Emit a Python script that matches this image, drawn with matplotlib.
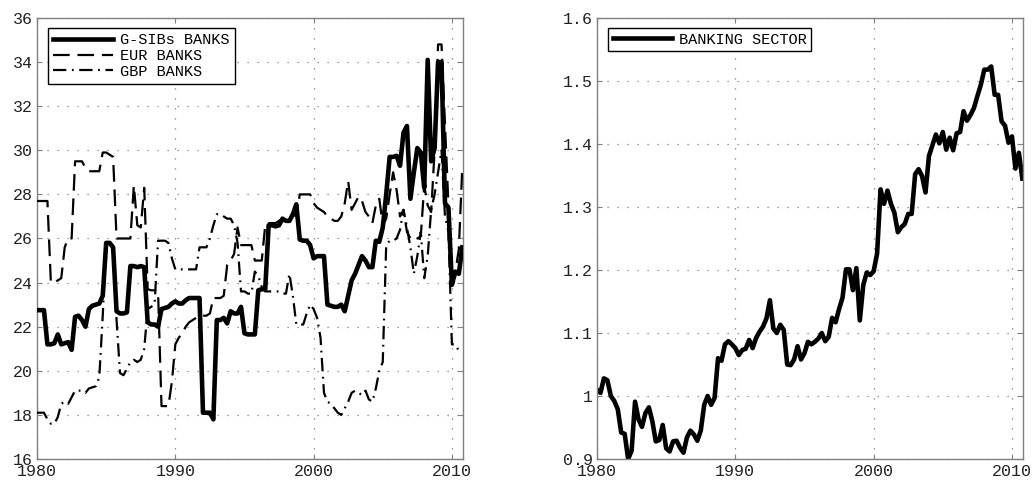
import matplotlib
matplotlib.use("Agg")
import matplotlib.pyplot as plt
import numpy as np
from matplotlib.ticker import FuncFormatter

# quarterly observations, 1980Q1 .. 2010Q4
gsib = [
    22.75, 22.75, 22.75, 21.2, 21.2, 21.25, 21.65, 21.2, 21.25, 21.3, 20.95, 22.45,
    22.5, 22.3, 22.0, 22.8, 22.95, 23.0, 23.05, 23.4, 25.8, 25.8, 25.6, 22.7,
    22.6, 22.6, 22.65, 24.75, 24.75, 24.7, 24.75, 24.7, 22.2, 22.1, 22.1, 22.0,
    22.8, 22.85, 22.9, 23.05, 23.15, 23.05, 23.05, 23.2, 23.3, 23.3, 23.3, 23.3,
    18.1, 18.1, 18.1, 17.8, 22.3, 22.3, 22.4, 22.15, 22.7, 22.6, 22.6, 22.9,
    21.7, 21.65, 21.65, 21.65, 23.65, 23.7, 23.7, 26.6, 26.6, 26.55, 26.6, 26.9,
    26.8, 26.8, 27.1, 27.55, 25.95, 25.9, 25.9, 25.7, 25.1, 25.2, 25.2, 25.2,
    23.0, 22.95, 22.9, 22.9, 23.0, 22.7, 23.4, 24.1, 24.4, 24.8, 25.2, 25.0,
    24.7, 24.7, 25.9, 25.85, 26.5, 28.0, 29.7, 29.7, 29.75, 29.3, 30.8, 31.1,
    27.8, 29.0, 30.1, 29.9, 28.3, 34.1, 29.5, 30.1, 34.0, 34.0, 27.6, 27.4,
    23.9, 24.5, 24.4, 25.6,
]
eur = [
    27.7, 27.7, 27.7, 27.7, 24.0, 24.0, 24.1, 24.2, 25.6, 26.0, 26.0, 29.5,
    29.5, 29.5, 29.2, 29.05, 29.05, 29.05, 29.05, 29.9, 29.9, 29.8, 29.7, 26.0,
    26.0, 26.0, 26.0, 26.0, 28.4, 26.6, 26.5, 28.3, 23.7, 23.65, 23.65, 23.6,
    18.4, 18.4, 18.4, 19.5, 21.2, 21.5, 21.7, 22.0, 22.2, 22.3, 22.4, 22.5,
    22.5, 22.5, 22.6, 23.3, 23.3, 23.3, 23.4, 24.8, 25.0, 25.3, 26.5, 25.7,
    25.7, 25.7, 25.7, 25.0, 25.0, 25.0, 26.6, 26.7, 26.7, 26.7, 26.8, 26.9,
    26.9, 27.0, 27.1, 27.0, 28.0, 28.0, 28.0, 28.0, 27.6, 27.4, 27.3, 27.2,
    27.0, 26.9, 26.8, 26.8, 27.0, 27.6, 28.6, 27.3, 27.6, 27.9, 27.7, 27.2,
    27.0, 26.7, 27.5, 27.8, 26.6, 26.9, 28.0, 29.0, 28.2, 27.0, 27.3, 26.3,
    26.0, 25.9, 26.0, 26.1, 28.4, 27.5, 27.2, 30.0, 34.8, 34.8, 31.2, 27.5,
    24.0, 24.5, 25.5, 29.2,
]
gbp = [
    18.1, 18.1, 18.1, 17.8, 17.6, 17.6, 17.9, 18.5, 18.6, 18.5, 18.8, 19.1,
    19.1, 19.1, 19.0, 19.2, 19.25, 19.3, 19.7, 22.5, 25.8, 25.8, 25.6, 22.3,
    19.9, 19.8, 20.1, 20.4, 20.5, 20.4, 20.5, 21.0, 22.8, 22.9, 23.0, 25.9,
    25.9, 25.9, 25.8, 25.1, 24.6, 24.6, 24.6, 24.6, 24.6, 24.6, 24.6, 25.6,
    25.6, 25.6, 26.0, 26.6, 27.1, 27.1, 27.0, 26.9, 26.9, 26.6, 25.8, 23.6,
    23.6, 23.5, 23.5, 24.5, 24.3, 23.8, 23.6, 23.6, 23.6, 23.6, 23.6, 23.5,
    23.5, 24.4, 23.4, 22.1, 22.1, 22.1, 22.6, 23.0, 22.8, 22.4, 21.5, 19.0,
    18.6, 18.5, 18.3, 18.1, 18.0, 18.3, 18.6, 19.0, 19.1, 19.0, 18.9, 19.1,
    18.7, 18.6, 19.2, 20.0, 20.4, 25.7, 25.9, 25.9, 26.0, 26.4, 27.3, 26.5,
    25.6, 24.4, 25.2, 26.3, 24.2, 25.2, 27.3, 28.0, 29.0, 30.0, 27.0, 26.3,
    21.2, 21.2, 20.9, 20.9,
]
banking = [
    1.010, 1.005, 1.028, 1.025, 1.000, 0.992, 0.979, 0.942, 0.940, 0.900,
    0.913, 0.991, 0.963, 0.951, 0.973, 0.982, 0.960, 0.928, 0.930, 0.954,
    0.917, 0.912, 0.928, 0.929, 0.918, 0.910, 0.934, 0.945, 0.939, 0.929,
    0.945, 0.986, 1.000, 0.986, 0.997, 1.060, 1.056, 1.082, 1.087, 1.082,
    1.076, 1.065, 1.073, 1.075, 1.089, 1.076, 1.092, 1.102, 1.110, 1.123,
    1.152, 1.107, 1.100, 1.113, 1.105, 1.050, 1.049, 1.058, 1.079, 1.058,
    1.068, 1.086, 1.082, 1.086, 1.091, 1.100, 1.087, 1.094, 1.124, 1.117,
    1.138, 1.156, 1.201, 1.201, 1.168, 1.203, 1.120, 1.176, 1.196, 1.192,
    1.198, 1.226, 1.328, 1.305, 1.326, 1.305, 1.291, 1.260, 1.268, 1.273,
    1.289, 1.289, 1.352, 1.360, 1.349, 1.323, 1.381, 1.398, 1.415, 1.401,
    1.419, 1.391, 1.410, 1.390, 1.417, 1.419, 1.452, 1.437, 1.446, 1.457,
    1.476, 1.494, 1.518, 1.518, 1.523, 1.478, 1.478, 1.436, 1.429, 1.402,
    1.412, 1.361, 1.386, 1.345,
]
dates = 1980 + 0.25 * np.arange(len(gsib))
year_ticks = [1980, 1990, 2000, 2010]

plt.rcParams["font.family"] = ["Liberation Mono", "DejaVu Sans Mono"]
FRAME = "#808080"


def style_axes(ax):
    for sp in ax.spines.values():
        sp.set_color(FRAME)
        sp.set_linewidth(1.0)
    ax.tick_params(direction="in", length=3.5, width=0.8, color=FRAME,
                   top=True, right=True, labelsize=12, labelcolor="#222222")
    ax.tick_params(axis="x", pad=3.8)
    ax.tick_params(axis="y", pad=3)
    ax.grid(True, color="#7a7a7a", linestyle=(0, (1, 7)), linewidth=0.9)
    ax.set_xlim(1980, 2010.8)
    ax.set_xticks(year_ticks)


def boxed_legend(ax, **kw):
    leg = ax.legend(loc="upper left", bbox_to_anchor=(0.026, 0.977), borderaxespad=0,
                    fontsize=11, handlelength=3.9, handletextpad=0.45,
                    fancybox=False, framealpha=1, **kw)
    leg.get_frame().set_edgecolor("black")
    leg.get_frame().set_linewidth(1.0)
    return leg


fig = plt.figure(figsize=(10.32, 4.82), dpi=100)
ax1 = fig.add_axes([0.0359, 0.0477, 0.4127, 0.9150])
ax2 = fig.add_axes([0.5785, 0.0477, 0.4128, 0.9150])

# left: capital ratios by bank group
ax1.plot(dates, gsib, color="black", lw=3.3, label="G-SIBs BANKS", zorder=4)
ax1.plot(dates, eur, color="black", lw=1.6, dashes=(7.5, 3.5), label="EUR BANKS", zorder=3)
ax1.plot(dates, gbp, color="black", lw=1.6, dashes=(6, 2.5, 0.8, 2.5), label="GBP BANKS", zorder=3)
style_axes(ax1)
ax1.set_ylim(16, 36)
ax1.set_yticks(np.arange(16, 37, 2))
boxed_legend(ax1, labelspacing=0.1, borderpad=0.35)

# right: aggregate banking-sector index
ax2.plot(dates, banking, color="black", lw=3.3, label="BANKING SECTOR")
style_axes(ax2)
ax2.set_ylim(0.9, 1.6)
ax2.set_yticks(np.arange(0.9, 1.61, 0.1))
ax2.yaxis.set_major_formatter(FuncFormatter(lambda v, p: "%g" % round(v, 1)))
boxed_legend(ax2, borderpad=0.3)

fig.savefig("out.png", dpi=100)
